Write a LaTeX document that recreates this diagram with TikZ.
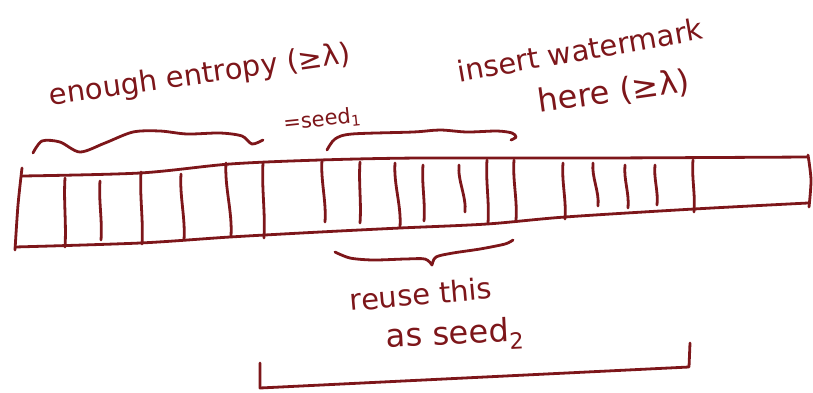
\documentclass[tikz,border=0pt]{standalone}
\usepackage{fontspec}
\setmainfont{DejaVu Sans}
\definecolor{ink}{RGB}{125,22,26}
\begin{document}
\begin{tikzpicture}[x=1pt,y=-1pt,
  pen/.style={draw=ink,line width=2.8pt,line cap=round,line join=round},
  hand/.style={text=ink,inner sep=0pt,font=\fontsize{29}{32}\selectfont},
  big/.style={text=ink,inner sep=0pt,font=\fontsize{32}{35}\selectfont},
  small/.style={text=ink,inner sep=0pt,font=\fontsize{21}{24}\selectfont}]
\useasboundingbox (0,0) rectangle (813,392);
% tape outline
\draw[pen] plot[smooth] coordinates {(22,176) (140,173) (230,164) (320,160) (420,158) (600,158) (808,157)};
\draw[pen] plot[smooth] coordinates {(15,247) (140,243) (230,237) (320,232) (400,228) (487,224) (565,217) (694,209) (808,203)};
\draw[pen] plot[smooth] coordinates {(22,168) (18,205) (15,250)};
\draw[pen] plot[smooth] coordinates {(808,155) (811,180) (809,207)};
% cell dividers
\foreach \xa/\ya/\xb/\yb in {65/178/65/247, 100/181/101/240, 141/172/142/244, 181/174/184/240,
  226/163/231/236, 263/163/264/238, 322/160/325/222, 360/162/360/223, 395/163/400/227,
  423/165/424/221, 459/165/465/212, 487/160/488/223, 514/160/516/220, 563/163/565/219,
  593/163/598/206, 625/165/628/208, 655/165/657/205, 693/160/694/212}
  \draw[pen] (\xa,\ya) .. controls (\xa-1.5,{\ya+(\yb-\ya)/3}) and (\xb+1.5,{\ya+2*(\yb-\ya)/3}) .. (\xb,\yb);
% braces
\draw[pen] plot[smooth] coordinates {(33,153) (42,141) (60,142) (80,152) (105,143) (133,132) (160,131) (187,134) (220,133) (242,136) (252,144) (263,140)};
\draw[pen] plot[smooth] coordinates {(327,150) (335,139) (352,134) (413,132) (440,130) (467,132) (497,131) (512,133) (516,137) (511,140)};
\draw[pen] plot[smooth] coordinates {(335,252) (350,258) (373,260) (405,259) (425,259) (432,265)};
\draw[pen] plot[smooth] coordinates {(432,265) (436,257) (453,253) (480,249) (505,244) (513,240)};
% bracket
\draw[pen] (260,363) -- (260,388) -- (689,367) -- (690,343);
% labels
\node[hand,rotate=8] (ent) at (200,76) {enough entropy (≥λ)};
\node[small,rotate=6] (s1) at (322,120) {=seed\textsubscript{1}};
\node[hand,rotate=10] (ins) at (580,50) {insert watermark};
\node[big,rotate=8] (here) at (614,92) {here (≥λ)};
\node[hand,rotate=5] (reuse) at (421,294) {reuse this};
\node[big,rotate=3] (seed2) at (455,336) {as seed\textsubscript{2}};
\end{tikzpicture}
\end{document}
